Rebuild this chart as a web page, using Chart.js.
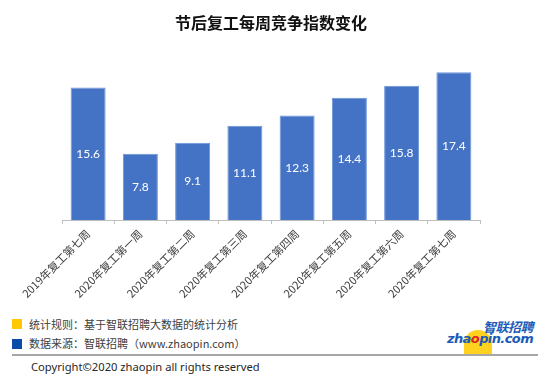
<!DOCTYPE html>
<html><head><meta charset="utf-8">
<script src="https://cdn.jsdelivr.net/npm/chart.js@4"></script>
<style>
html,body{margin:0;padding:0;background:#fff;}
#wrap{position:relative;width:550px;height:383px;overflow:hidden;font-family:"Noto Sans CJK SC","Noto Sans",sans-serif;}
#c{position:absolute;left:0;top:0;}
.sq{position:absolute;width:10px;height:10px;}
.t{position:absolute;font-size:11px;color:#404040;white-space:nowrap;line-height:14px;}
</style></head>
<body><div id="wrap">
<canvas id="c" width="550" height="300" style="width:550px;height:300px"></canvas>
<div class="sq" style="left:12px;top:319px;background:#FFC800"></div>
<div class="t" style="left:29px;top:317px;">统计规则：基于智联招聘大数据的统计分析</div>
<div class="sq" style="left:12px;top:339px;background:#0A4DA8"></div>
<div class="t" style="left:29px;top:336px;">数据来源：智联招聘（www.zhaopin.com）</div>
<div style="position:absolute;left:12px;top:354px;width:526px;height:2px;background:#a6a6a6"></div>
<div class="t" style="left:31px;top:360px;font-family:'Noto Sans',sans-serif;font-size:11.2px;color:#262626;">Copyright©2020 zhaopin all rights reserved</div>
<div style="position:absolute;left:464px;top:330px;width:28px;height:24px;border-radius:14px 14px 0 0;background:#FFD21F;"></div>
<div style="position:absolute;left:483px;top:319px;font-family:'Noto Sans CJK SC';font-weight:bold;font-style:italic;font-size:13px;color:#1D5BB8;letter-spacing:-0.5px;line-height:16px;">智联招聘</div>
<div style="position:absolute;left:447px;top:331px;font-family:'DejaVu Sans';font-weight:bold;font-style:italic;font-size:13px;color:#1D5BB8;letter-spacing:-0.6px;line-height:15px;">zha<span style="color:#D8262B">o</span>pin.com</div>
</div>
<script>
const categories = ['2019年复工第七周','2020年复工第一周','2020年复工第二周','2020年复工第三周','2020年复工第四周','2020年复工第五周','2020年复工第六周','2020年复工第七周'];
const values = [15.6, 7.8, 9.1, 11.1, 12.3, 14.4, 15.8, 17.4];
const chartTitle = '节后复工每周竞争指数变化';

const valueLabels = {
  id: 'valueLabels',
  afterDatasetsDraw(chart) {
    const ctx = chart.ctx;
    const meta = chart.getDatasetMeta(0);
    ctx.save();
    ctx.fillStyle = '#ffffff';
    ctx.font = '12px Lato, "Liberation Sans", sans-serif';
    ctx.textAlign = 'center';
    ctx.textBaseline = 'middle';
    meta.data.forEach((bar, i) => {
      const y = (bar.y + bar.base) / 2;
      ctx.fillText(values[i].toFixed(1), bar.x, y);
    });
    ctx.restore();
  }
};

new Chart(document.getElementById('c'), {
  type: 'bar',
  data: {
    labels: categories,
    datasets: [{
      data: values,
      backgroundColor: '#4472C4',
      borderColor: '#6E95D8',
      borderWidth: 1,
      categoryPercentage: 1,
      barPercentage: 0.67
    }]
  },
  options: {
    responsive: false,
    animation: false,
    layout: { padding: { left: 62, right: 70, top: 0, bottom: 0 } },
    plugins: {
      legend: { display: false },
      tooltip: { enabled: false },
      title: {
        display: true,
        text: chartTitle,
        color: '#111',
        font: { family: '"Noto Sans CJK SC"', size: 16, weight: 'bold', lineHeight: 1.2 },
        padding: { top: 13, bottom: 18 }
      }
    },
    scales: {
      y: { display: false, min: 0, max: 20 },
      x: {
        offset: true,
        border: { display: true, color: '#bfbfbf', width: 1 },
        grid: { display: true, drawOnChartArea: false, offset: true, tickLength: 4, color: '#bfbfbf' },
        ticks: {
          autoSkip: false, minRotation: 45, maxRotation: 45, padding: 3,
          color: '#404040',
          font: { family: '"Noto Sans CJK SC"', size: 11 }
        },
        afterFit(scale) { scale.height = 80; }
      }
    }
  },
  plugins: [valueLabels]
});
</script>
</body></html>
